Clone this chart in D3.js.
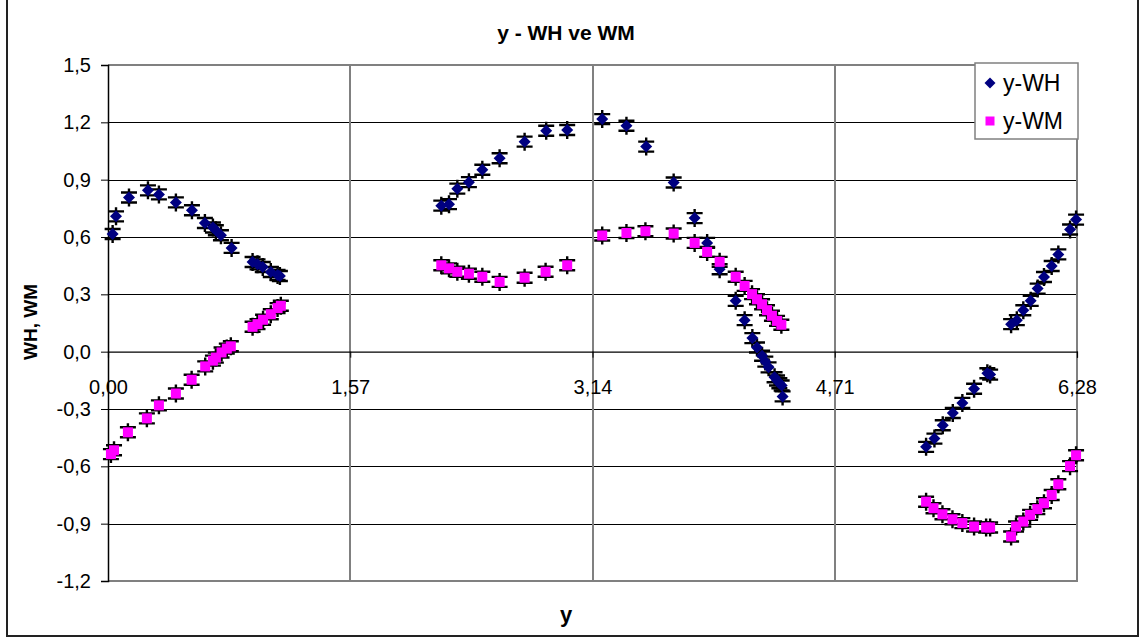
<!DOCTYPE html>
<html>
<head>
<meta charset="utf-8">
<script src="https://cdn.jsdelivr.net/npm/d3@7"></script>
<style>
  html, body { margin: 0; padding: 0; background: #fff; }
  svg text { font-family: "Liberation Sans", Arial, sans-serif; }
</style>
</head>
<body>
<svg id="chart" width="1144" height="639"></svg>
<script>
// Axis ticks
const xTicks = [0, 1.57, 3.14, 4.71, 6.28];
const xTickLabels = ["0,00", "1,57", "3,14", "4,71", "6,28"];
const yTicks = [-1.2, -0.9, -0.6, -0.3, 0, 0.3, 0.6, 0.9, 1.2, 1.5];
const yTickLabels = ["-1,2", "-0,9", "-0,6", "-0,3", "0,0", "0,3", "0,6", "0,9", "1,2", "1,5"];

// Series y-WH
const xWH = [
  0.030, 0.052, 0.136, 0.259, 0.330, 0.440, 0.544, 0.628, 0.680, 0.699, 0.732, 0.801, 0.937, 0.969, 1.003, 1.055, 1.099, 1.114,
  2.160, 2.210, 2.264, 2.339, 2.426, 2.538, 2.700, 2.840, 2.976,
  3.203, 3.360, 3.488, 3.666, 3.802, 3.883, 3.964, 4.068, 4.126, 4.176, 4.206, 4.239, 4.260, 4.281, 4.320, 4.336, 4.351, 4.366, 4.372,
  5.302, 5.356, 5.410, 5.475, 5.537, 5.613, 5.699, 5.717, 5.853, 5.890, 5.932, 5.980, 6.025, 6.066, 6.116, 6.159, 6.235, 6.274
];
const yWH = [
  0.616, 0.708, 0.807, 0.844, 0.823, 0.781, 0.740, 0.673, 0.650, 0.635, 0.609, 0.543, 0.469, 0.457, 0.443, 0.417, 0.401, 0.396,
  0.764, 0.772, 0.853, 0.887, 0.952, 1.012, 1.099, 1.156, 1.160,
  1.217, 1.182, 1.073, 0.885, 0.699, 0.569, 0.431, 0.266, 0.165, 0.071, 0.022, -0.021, -0.052, -0.082, -0.134, -0.151, -0.165, -0.177, -0.234,
  -0.498, -0.455, -0.385, -0.321, -0.268, -0.194, -0.113, -0.120, 0.144, 0.165, 0.217, 0.266, 0.330, 0.391, 0.448, 0.509, 0.639, 0.691
];

// Series y-WM
const xWM = [
  0.019, 0.039, 0.129, 0.252, 0.330, 0.440, 0.542, 0.630, 0.680, 0.699, 0.736, 0.770, 0.796, 0.937, 0.969, 1.005, 1.055, 1.099, 1.120,
  2.160, 2.210, 2.264, 2.339, 2.426, 2.538, 2.700, 2.836, 2.976,
  3.203, 3.360, 3.483, 3.666, 3.802, 3.883, 3.964, 4.068, 4.126, 4.174, 4.206, 4.239, 4.271, 4.303, 4.336, 4.364,
  5.302, 5.350, 5.408, 5.473, 5.537, 5.613, 5.691, 5.717, 5.853, 5.885, 5.932, 5.976, 6.023, 6.066, 6.116, 6.159, 6.235, 6.274
];
const yWM = [
  -0.536, -0.516, -0.422, -0.349, -0.281, -0.219, -0.147, -0.077, -0.047, -0.031, -0.004, 0.016, 0.028, 0.130, 0.144, 0.167, 0.196, 0.228, 0.240,
  0.452, 0.436, 0.418, 0.408, 0.392, 0.365, 0.387, 0.418, 0.452,
  0.608, 0.621, 0.630, 0.618, 0.569, 0.522, 0.470, 0.392, 0.344, 0.301, 0.274, 0.248, 0.217, 0.188, 0.161, 0.141,
  -0.785, -0.819, -0.851, -0.877, -0.897, -0.915, -0.920, -0.920, -0.967, -0.915, -0.889, -0.854, -0.824, -0.793, -0.750, -0.694, -0.599, -0.542
];

const seriesNames = ["y-WH", "y-WM"];

const svg = d3.select("#chart");
const plot = { left: 108, right: 1077, top: 65, bottom: 581 };

const x = d3.scaleLinear().domain([0, 6.28]).range([plot.left, plot.right]);
const y = d3.scaleLinear().domain([-1.2, 1.5]).range([plot.bottom, plot.top]);

// Outer chart frame
svg.append("rect")
  .attr("x", 7).attr("y", -2).attr("width", 1131).attr("height", 638)
  .attr("fill", "#fff").attr("stroke", "#222").attr("stroke-width", 2);

// Horizontal gridlines
svg.append("g")
  .selectAll("line")
  .data(yTicks.filter(v => v > -1.2 && v < 1.5 && v !== 0))
  .join("line")
  .attr("x1", plot.left).attr("x2", plot.right)
  .attr("y1", d => Math.round(y(d)) + 0.5).attr("y2", d => Math.round(y(d)) + 0.5)
  .attr("stroke", "#000").attr("stroke-width", 1);

// Vertical gridlines
svg.append("g")
  .selectAll("line")
  .data(xTicks.slice(1, -1))
  .join("line")
  .attr("x1", d => Math.round(x(d))).attr("x2", d => Math.round(x(d)))
  .attr("y1", plot.top).attr("y2", plot.bottom)
  .attr("stroke", "#808080").attr("stroke-width", 2);

// Plot area border (top, right, bottom)
svg.append("path")
  .attr("d", `M${plot.left},${plot.top}H${plot.right}V${plot.bottom}H${plot.left}`)
  .attr("fill", "none").attr("stroke", "#808080").attr("stroke-width", 2);

// Y axis
const yAxis = d3.axisLeft(y).tickValues(yTicks).tickSize(7).tickPadding(10)
  .tickFormat((d, i) => yTickLabels[i]);
const gy = svg.append("g").attr("transform", `translate(${plot.left},0)`).call(yAxis);
gy.select(".domain").attr("stroke", "#000").attr("stroke-width", 1.5);
gy.selectAll(".tick line").attr("stroke", "#000");
gy.selectAll(".tick text")
  .attr("font-size", 20).attr("fill", "#000")
  .attr("font-family", "'Liberation Sans', Arial, sans-serif");

// X axis crossing at zero
const xAxis = d3.axisBottom(x).tickValues(xTicks).tickSize(6).tickPadding(22)
  .tickFormat((d, i) => xTickLabels[i]);
const gx = svg.append("g").attr("transform", `translate(0,${y(0)})`).call(xAxis);
gx.select(".domain").attr("stroke", "#000").attr("stroke-width", 1.2);
gx.selectAll(".tick line").attr("stroke", "#000");
gx.selectAll(".tick text")
  .attr("font-size", 20).attr("fill", "#000")
  .attr("font-family", "'Liberation Sans', Arial, sans-serif");

// Error-bar glyph behind every marker
function drawGlyphs(xs, ys) {
  const g = svg.append("g").attr("stroke", "#000").attr("stroke-width", 2.4).attr("fill", "none");
  const pts = xs.map((v, i) => [x(v), y(ys[i])]);
  g.selectAll("path").data(pts).join("path")
    .attr("d", ([px, py]) =>
      `M${px},${py - 9}V${py + 9}` +
      `M${px - 8},${py - 5}H${px + 8}` +
      `M${px - 8},${py + 5}H${px + 8}`);
}
drawGlyphs(xWH, yWH);
drawGlyphs(xWM, yWM);

const diamond = (cx, cy, r) => `M${cx},${cy - r}L${cx + r},${cy}L${cx},${cy + r}L${cx - r},${cy}Z`;

// y-WH markers
svg.append("g").selectAll("path")
  .data(xWH.map((v, i) => [v, yWH[i]]))
  .join("path")
  .attr("d", d => diamond(x(d[0]), y(d[1]), 6))
  .attr("fill", "#000080");

// y-WM markers
svg.append("g").selectAll("rect")
  .data(xWM.map((v, i) => [v, yWM[i]]))
  .join("rect")
  .attr("x", d => x(d[0]) - 5).attr("y", d => y(d[1]) - 5)
  .attr("width", 10).attr("height", 10)
  .attr("fill", "#ff00ff");

// Title
svg.append("text")
  .attr("x", 566).attr("y", 40).attr("text-anchor", "middle")
  .attr("font-size", 21).attr("font-weight", "bold")
  .text("y - WH ve WM");

// Axis titles
svg.append("text")
  .attr("transform", "translate(37,322) rotate(-90)")
  .attr("text-anchor", "middle")
  .attr("font-size", 19).attr("font-weight", "bold")
  .text("WH, WM");

svg.append("text")
  .attr("x", 566).attr("y", 622).attr("text-anchor", "middle")
  .attr("font-size", 22).attr("font-weight", "bold")
  .text("y");

// Legend
const lg = svg.append("g");
lg.append("rect")
  .attr("x", 975).attr("y", 63).attr("width", 103).attr("height", 76)
  .attr("fill", "#fff").attr("stroke", "#808080").attr("stroke-width", 1.5);
lg.append("path").attr("d", diamond(990, 83, 5.5)).attr("fill", "#000080");
lg.append("rect").attr("x", 985.5).attr("y", 116.5).attr("width", 9).attr("height", 9).attr("fill", "#ff00ff");
lg.selectAll("text.lab").data(seriesNames).join("text")
  .attr("class", "lab")
  .attr("x", 1003).attr("y", (d, i) => 91 + i * 38)
  .attr("font-size", 23)
  .text(d => d);
</script>
</body>
</html>
